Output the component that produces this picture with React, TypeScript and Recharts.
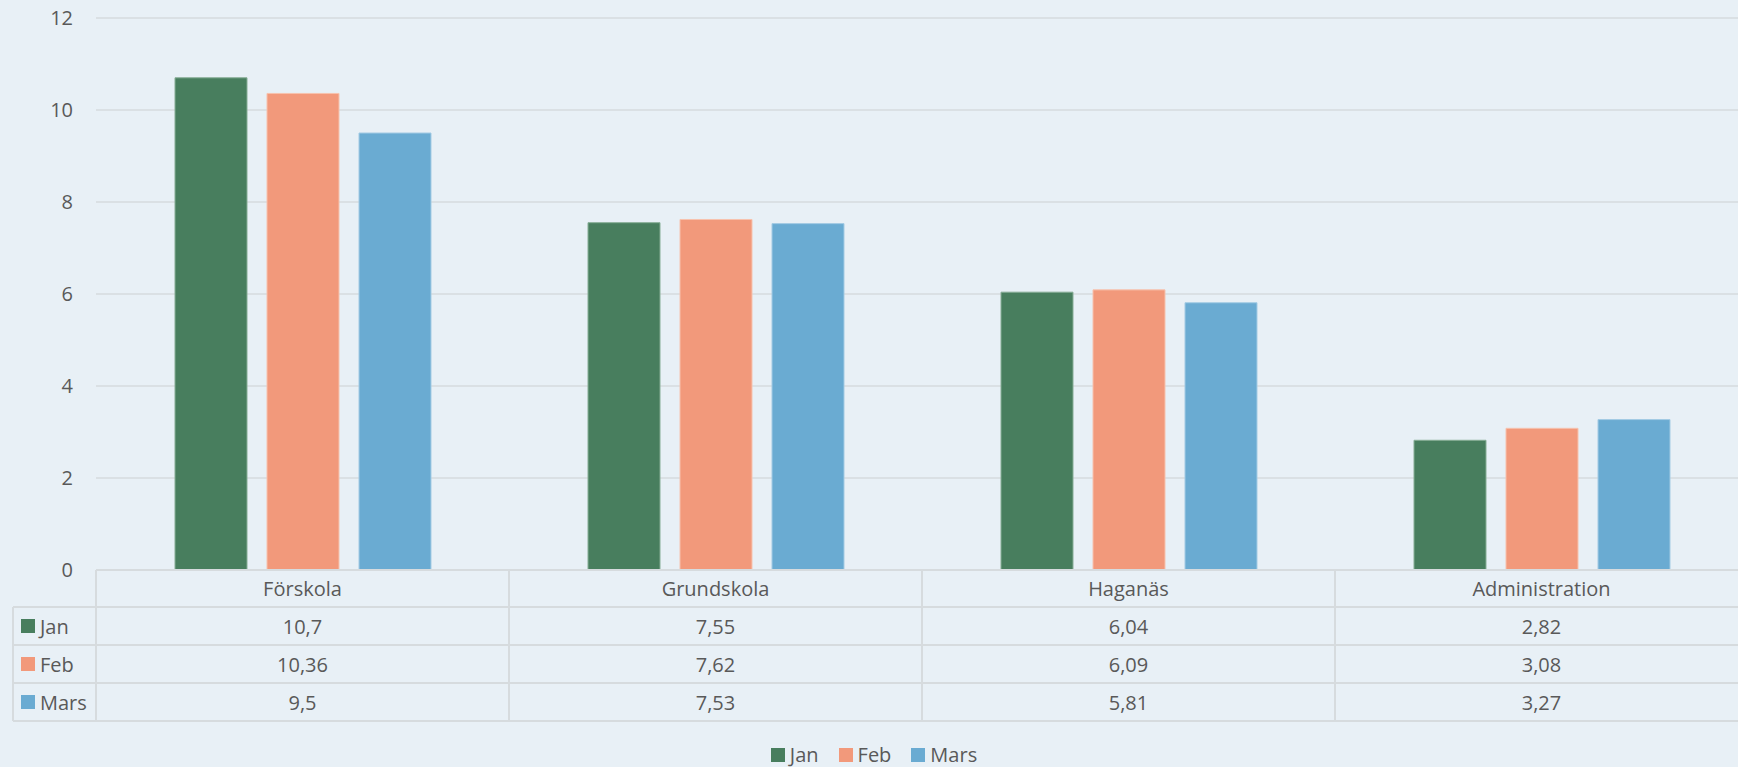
import { BarChart, Bar, XAxis, YAxis, CartesianGrid, Legend } from "recharts";

const categories = ["Förskola", "Grundskola", "Haganäs", "Administration"];
const janValues = [10.7, 7.55, 6.04, 2.82];
const febValues = [10.36, 7.62, 6.09, 3.08];
const marsValues = [9.5, 7.53, 5.81, 3.27];
const yTicks = [0, 2, 4, 6, 8, 10, 12];

const series = [
  { key: "jan", name: "Jan", values: janValues, color: "#487E5E", edge: "#86AD95" },
  { key: "feb", name: "Feb", values: febValues, color: "#F2997B", edge: "#F7C2AE" },
  { key: "mars", name: "Mars", values: marsValues, color: "#6AABD2", edge: "#A3CBE4" },
];

const data = categories.map((name, i) => ({
  name,
  jan: janValues[i],
  feb: febValues[i],
  mars: marsValues[i],
}));

// layout
const CHART_W = 1760;
const CHART_H = 767;
const MARGIN = { top: 18, right: 12, left: 0, bottom: 0 };
const Y_AXIS_W = 96;
const BAND = (CHART_W - MARGIN.left - MARGIN.right - Y_AXIS_W) / categories.length;
const HEADER_H = 37;
const ROW_H = 38;
const KEY_COL_W = 83;
const LINE = "#D6DBDE";
const TEXT = "#595959";
const FONT = "'Open Sans', sans-serif";

const fmt = (v: number) => String(v).replace(".", ",");

function TableTick(props: any) {
  const { x, y, payload } = props;
  const i = payload.index;
  const left = x - BAND / 2;
  const right = x + BAND / 2;
  const bottom = y + HEADER_H + series.length * ROW_H;
  return (
    <g fontFamily={FONT} fontSize={20} fill={TEXT}>
      <line x1={left} x2={right} y1={y} y2={y} stroke={LINE} strokeWidth={2} />
      {series.map((s, r) => (
        <line
          key={s.key}
          x1={i === 0 ? left - KEY_COL_W : left}
          x2={right}
          y1={y + HEADER_H + r * ROW_H}
          y2={y + HEADER_H + r * ROW_H}
          stroke={LINE}
          strokeWidth={2}
        />
      ))}
      <line
        x1={i === 0 ? left - KEY_COL_W : left}
        x2={right}
        y1={bottom}
        y2={bottom}
        stroke={LINE}
        strokeWidth={2}
      />
      <line x1={left} x2={left} y1={y} y2={bottom} stroke={LINE} strokeWidth={2} />
      <line x1={right} x2={right} y1={y} y2={bottom} stroke={LINE} strokeWidth={2} />
      <text x={x} y={y + HEADER_H / 2} textAnchor="middle" dominantBaseline="central">
        {payload.value}
      </text>
      {series.map((s, r) => (
        <text
          key={s.key}
          x={x}
          y={y + HEADER_H + r * ROW_H + ROW_H / 2}
          textAnchor="middle"
          dominantBaseline="central"
        >
          {fmt(s.values[i])}
        </text>
      ))}
      {i === 0 && (
        <g>
          <line
            x1={left - KEY_COL_W}
            x2={left - KEY_COL_W}
            y1={y + HEADER_H}
            y2={bottom}
            stroke={LINE}
            strokeWidth={2}
          />
          {series.map((s, r) => {
            const cy = y + HEADER_H + r * ROW_H + ROW_H / 2;
            return (
              <g key={s.key}>
                <rect x={left - KEY_COL_W + 8} y={cy - 7} width={14} height={14} fill={s.color} />
                <text x={left - KEY_COL_W + 27} y={cy} dominantBaseline="central">
                  {s.name}
                </text>
              </g>
            );
          })}
        </g>
      )}
    </g>
  );
}

function LegendContent() {
  return (
    <div
      style={{
        height: 46,
        display: "flex",
        justifyContent: "center",
        alignItems: "flex-start",
        paddingTop: 24,
        boxSizing: "border-box",
        gap: 20,
        fontFamily: FONT,
        fontSize: 20,
        color: TEXT,
      }}
    >
      {series.map((s) => (
        <div key={s.key} style={{ display: "flex", alignItems: "center", gap: 5, lineHeight: "20px" }}>
          <span style={{ width: 14, height: 14, background: s.color, display: "inline-block" }} />
          <span>{s.name}</span>
        </div>
      ))}
    </div>
  );
}

export default function App() {
  return (
    <div
      style={{
        position: "fixed",
        left: 0,
        top: 0,
        width: 1738,
        height: 767,
        overflow: "hidden",
        background: "#E8F0F6",
      }}
    >
      <BarChart
        width={CHART_W}
        height={CHART_H}
        data={data}
        margin={MARGIN}
        barGap={20}
        barSize={72}
      >
        <CartesianGrid horizontal vertical={false} stroke={LINE} strokeWidth={1.5} />
        <YAxis
          width={Y_AXIS_W}
          domain={[0, 12]}
          ticks={yTicks}
          interval={0}
          axisLine={false}
          tickLine={false}
          tickMargin={17}
          tick={{ fill: TEXT, fontSize: 20, fontFamily: FONT }}
        />
        <XAxis
          dataKey="name"
          height={HEADER_H + series.length * ROW_H}
          axisLine={false}
          tickLine={false}
          tickSize={0}
          tickMargin={0}
          interval={0}
          tick={<TableTick />}
        />
        <Legend verticalAlign="bottom" content={<LegendContent />} />
        {series.map((s) => (
          <Bar
            key={s.key}
            dataKey={s.key}
            name={s.name}
            fill={s.color}
            stroke={s.edge}
            strokeWidth={1}
            isAnimationActive={false}
          />
        ))}
      </BarChart>
    </div>
  );
}
